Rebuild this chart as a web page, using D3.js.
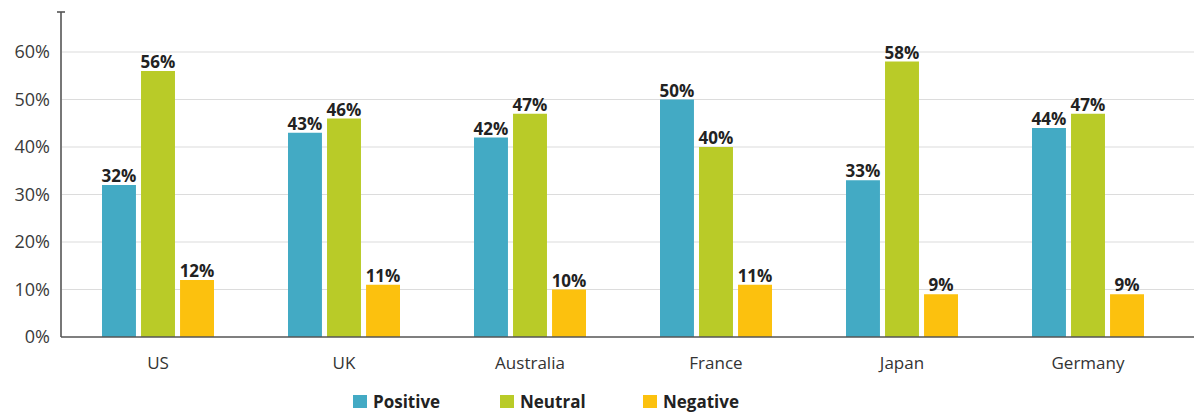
<!DOCTYPE html>
<html lang="en">
<head>
<meta charset="utf-8">
<title>Sentiment by country</title>
<script src="https://cdn.jsdelivr.net/npm/d3@7/dist/d3.min.js"></script>
<style>
  body { margin: 0; background: #fff; }
  text { font-family: "Open Sans", "Noto Sans", sans-serif; }
</style>
</head>
<body>
<script>
// data
var countries = ["US", "UK", "Australia", "France", "Japan", "Germany"];
var seriesNames = ["Positive", "Neutral", "Negative"];
var positive = [32, 43, 42, 50, 33, 44];
var neutral  = [56, 46, 47, 40, 58, 47];
var negative = [12, 11, 10, 11, 9, 9];
var yTicks = [0, 10, 20, 30, 40, 50, 60];

var colors = ["#43aac4", "#b9cb28", "#fcc10e"];
var values = [positive, neutral, negative];

var w = 1194, h = 413;
var left = 62, baseY = 337;

var svg = d3.select("body").append("svg")
  .attr("width", w)
  .attr("height", h);

var y = d3.scaleLinear().domain([0, 60]).range([baseY, 52]);
var x0 = d3.scaleBand().domain(countries).range([64, 1180]).padding(0);
var x1 = d3.scaleBand().domain(seriesNames).range([38, 150]).paddingInner(0.13);

// gridlines
svg.append("g").selectAll("line")
  .data(yTicks.slice(1))
  .enter().append("line")
  .attr("x1", left).attr("x2", w)
  .attr("y1", function(d) { return y(d); })
  .attr("y2", function(d) { return y(d); })
  .attr("stroke", "#dcdcdc")
  .attr("stroke-width", 1.2);

// y tick labels
svg.append("g").selectAll("text")
  .data(yTicks)
  .enter().append("text")
  .attr("x", 50)
  .attr("y", function(d) { return y(d) + 6; })
  .attr("text-anchor", "end")
  .attr("font-size", "18px")
  .attr("fill", "#3a3a3a")
  .text(function(d) { return d + "%"; });

// bars + value labels
var groups = svg.append("g").selectAll("g")
  .data(countries)
  .enter().append("g")
  .attr("transform", function(d) { return "translate(" + x0(d) + ",0)"; });

groups.selectAll("rect")
  .data(function(d, i) {
    return seriesNames.map(function(s, j) { return { s: s, v: values[j][i], c: colors[j] }; });
  })
  .enter().append("rect")
  .attr("x", function(d) { return x1(d.s); })
  .attr("width", x1.bandwidth())
  .attr("y", function(d) { return y(d.v); })
  .attr("height", function(d) { return baseY - y(d.v); })
  .attr("fill", function(d) { return d.c; });

groups.selectAll("text")
  .data(function(d, i) {
    return seriesNames.map(function(s, j) { return { s: s, v: values[j][i] }; });
  })
  .enter().append("text")
  .attr("x", function(d) { return x1(d.s) + x1.bandwidth() / 2; })
  .attr("y", function(d) { return y(d.v) - 3; })
  .attr("text-anchor", "middle")
  .attr("font-size", "17px")
  .attr("font-weight", "bold")
  .attr("fill", "#222")
  .text(function(d) { return d.v + "%"; });

// category labels
svg.append("g").selectAll("text")
  .data(countries)
  .enter().append("text")
  .attr("x", function(d) { return x0(d) + 94; })
  .attr("y", 369)
  .attr("text-anchor", "middle")
  .attr("font-size", "17px")
  .attr("fill", "#333")
  .text(function(d) { return d; });

// axes
svg.append("line")
  .attr("x1", left - 1).attr("x2", w)
  .attr("y1", baseY).attr("y2", baseY)
  .attr("stroke", "#555").attr("stroke-width", 1.6);
svg.append("line")
  .attr("x1", left - 1).attr("x2", left - 1)
  .attr("y1", 12).attr("y2", baseY)
  .attr("stroke", "#555").attr("stroke-width", 1.6);
svg.append("line")
  .attr("x1", left - 5).attr("x2", left + 3)
  .attr("y1", 12).attr("y2", 12)
  .attr("stroke", "#555").attr("stroke-width", 1.6);

// legend
var legendX = [353, 500, 643];
var leg = svg.append("g").selectAll("g")
  .data(seriesNames)
  .enter().append("g")
  .attr("transform", function(d, i) { return "translate(" + legendX[i] + ",0)"; });
leg.append("rect")
  .attr("x", 0).attr("y", 395)
  .attr("width", 14).attr("height", 13)
  .attr("fill", function(d, i) { return colors[i]; });
leg.append("text")
  .attr("x", 20).attr("y", 408)
  .attr("font-size", "17px")
  .attr("font-weight", "bold")
  .attr("fill", "#222")
  .text(function(d) { return d; });
</script>
</body>
</html>
